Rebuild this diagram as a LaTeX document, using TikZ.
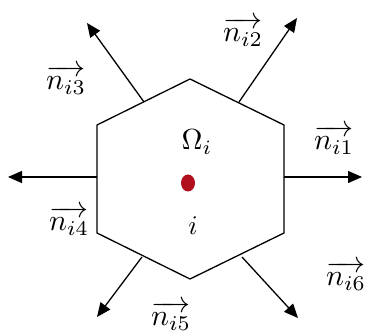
\documentclass[tikz,border=0pt]{standalone}
\usepackage{amsmath}
\usepackage{graphicx}
\usepackage{tikz}
\usetikzlibrary{arrows.meta}
\definecolor{dotColor}{HTML}{B0101E}
\newcommand{\biglbl}[2][2.7]{\scalebox{#1}{\(#2\)}}

\begin{document}
\begin{tikzpicture}[x=1pt, y=-1pt,
    normal/.style={-{Triangle[length=14pt,width=12pt]}, line width=1.3pt},
    lbl/.style={inner sep=0pt}]
    \useasboundingbox (0,0) rectangle (367,336);
    % hexagon corners
    \coordinate (top) at (190,79);
    \coordinate (ur) at (284,125);
    \coordinate (lr) at (284,233);
    \coordinate (bot) at (190,279);
    \coordinate (ll) at (97,233);
    \coordinate (ul) at (97,125);
    \draw[line width=1.3pt, line join=miter] (top) -- (ur) -- (lr) -- (bot) -- (ll) -- (ul) -- cycle;
    % normals
    \coordinate (s1) at (284,177);  \coordinate (e1) at (362,177);
    \coordinate (s2) at (239,102);  \coordinate (e2) at (297,18);
    \coordinate (s3) at (144,102);  \coordinate (e3) at (87,23);
    \coordinate (s4) at (97,177);   \coordinate (e4) at (8,177);
    \coordinate (s5) at (142,257);  \coordinate (e5) at (97,317);
    \coordinate (s6) at (242,257);  \coordinate (e6) at (298,318);
    \foreach \k in {1,...,6}
        \draw[normal] (s\k) -- (e\k);
    \node[lbl] (n1) at (334,140) {\biglbl[3]{\overrightarrow{n_{i1}}}};
    \node[lbl] (n2) at (243,32) {\biglbl[3]{\overrightarrow{n_{i2}}}};
    \node[lbl] (n3) at (66,80) {\biglbl[3]{\overrightarrow{n_{i3}}}};
    \node[lbl] (n4) at (69,221) {\biglbl[3]{\overrightarrow{n_{i4}}}};
    \node[lbl] (n5) at (171,316) {\biglbl[3]{\overrightarrow{n_{i5}}}};
    \node[lbl] (n6) at (346,276) {\biglbl[3]{\overrightarrow{n_{i6}}}};
    % cell
    \node[lbl] (omega) at (197,142) {\biglbl[2.9]{\Omega_i}};
    \fill[dotColor] (188,183) ellipse (7pt and 8.5pt);
    \node[lbl] (cell) at (193,226) {\biglbl{i}};
\end{tikzpicture}
\end{document}
